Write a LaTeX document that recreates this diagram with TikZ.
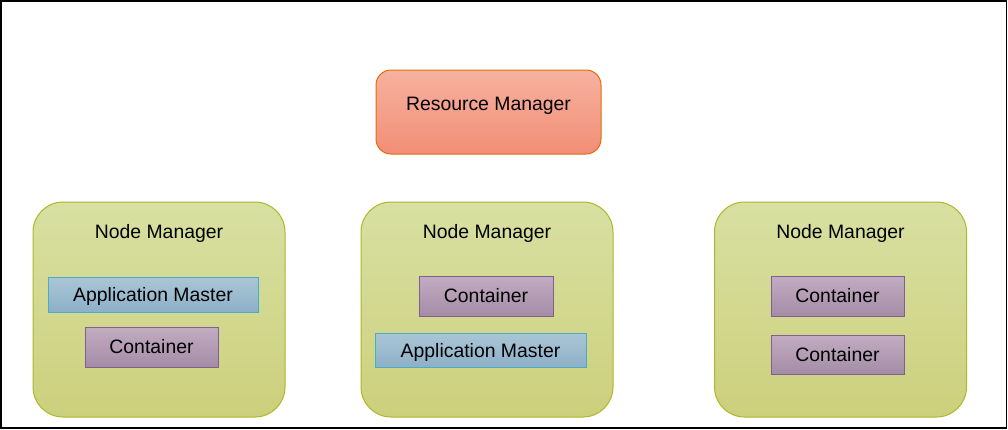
\documentclass[tikz,border=0pt]{standalone}
\usepackage{fontspec}
\setmainfont{Liberation Sans}
\usepackage{tikz}
\usetikzlibrary{positioning}

\definecolor{rmtop}{RGB}{246,178,160}
\definecolor{rmbot}{RGB}{242,142,118}
\definecolor{rmline}{RGB}{228,108,10}
\definecolor{nmtop}{RGB}{216,224,162}
\definecolor{nmbot}{RGB}{204,208,124}
\definecolor{nmline}{RGB}{172,184,40}
\definecolor{amtop}{RGB}{170,198,214}
\definecolor{ambot}{RGB}{140,176,200}
\definecolor{amline}{RGB}{75,172,198}
\definecolor{cttop}{RGB}{194,172,194}
\definecolor{ctbot}{RGB}{164,140,166}
\definecolor{ctline}{RGB}{130,95,145}

\begin{document}
\begin{tikzpicture}[x=1pt, y=-1pt, font=\fontsize{19.4pt}{23pt}\selectfont,
    rmbox/.style={draw=rmline, line width=1pt, top color=rmtop, bottom color=rmbot, rounded corners=15pt, minimum width=225pt, minimum height=84pt},
    nmbox/.style={draw=nmline, line width=1pt, top color=nmtop, bottom color=nmbot, rounded corners=30pt, minimum width=252pt, minimum height=215pt},
    ambox/.style={draw=amline, line width=1pt, top color=amtop, bottom color=ambot, minimum width=210pt, minimum height=35pt, inner sep=0pt, text depth=0pt},
    ctbox/.style={draw=ctline, line width=1pt, top color=cttop, bottom color=ctbot, minimum width=133pt, minimum height=40pt, inner sep=0pt},
    ]
    \useasboundingbox (0,0) rectangle (1008,429);

    % frame
    \draw[line width=1.5pt] (0.75,0.75) rectangle (1006.5,428);

    % Resource Manager
    \node[rmbox] (rm) at (488.5,112) {};
    \node at ([yshift=6pt]rm.center) {Resource Manager};

    % Node Managers
    \node[nmbox] (nm1) at (159,309.5) {};
    \node at ([yshift=-32pt]nm1.north) {Node Manager};

    \node[nmbox] (nm2) at (487,309.5) {};
    \node at ([yshift=-32pt]nm2.north) {Node Manager};

    \node[nmbox] (nm3) at (840.5,309.5) {};
    \node at ([yshift=-32pt]nm3.north) {Node Manager};

    % Node Manager 1
    \node[ambox] (am1) at (153,294.5) {Application Master};
    \node[ctbox] (ct1) at (151.5,347) {Container};

    % Node Manager 2
    \node[ctbox, minimum width=134pt] (ct2) at (486,296) {Container};
    \node[ambox, minimum width=211pt, minimum height=34pt] (am2) at (480.5,350) {Application Master};

    % Node Manager 3
    \node[ctbox] (ct3) at (837.5,296) {Container};
    \node[ctbox, minimum height=39pt] (ct4) at (837.5,354.5) {Container};
  \end{tikzpicture}
\end{document}
